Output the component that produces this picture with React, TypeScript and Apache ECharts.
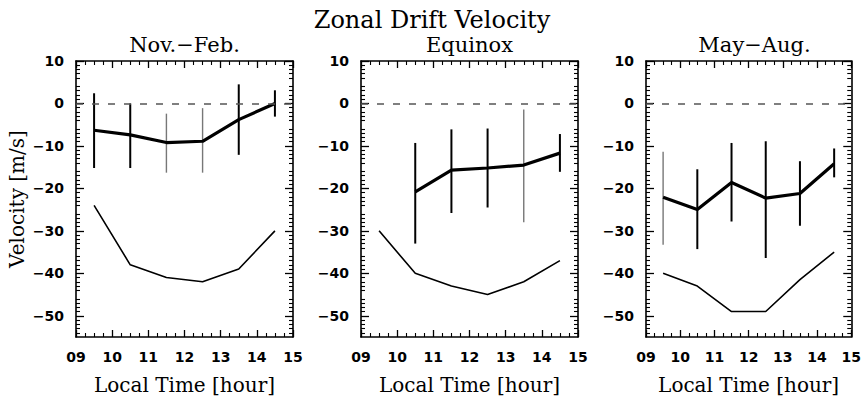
import React, { useEffect, useRef } from "react";
import * as echarts from "echarts";

const hours = [9.5, 10.5, 11.5, 12.5, 13.5, 14.5];
const panelTitles = ["Nov.−Feb.", "Equinox", "May−Aug."];
const mainTitle = "Zonal Drift Velocity";
const xTickLabels = ["09", "10", "11", "12", "13", "14", "15"];
const yTickValues = [-50, -40, -30, -20, -10, 0, 10];

// Nov.-Feb.
const novMean = [-6.3, -7.4, -9.2, -8.9, -3.8, 0.0];
const novHi = [2.4, 0.0, -2.4, -1.1, 4.5, 3.1];
const novLo = [-15.2, -15.2, -16.3, -16.3, -12.1, -3.1];
const novModel = [-24, -38, -41, -42, -39, -30];
// Equinox
const eqMean = [null, -20.8, -15.7, -15.2, -14.5, -11.7];
const eqHi = [null, -9.3, -6.1, -5.9, -1.4, -7.2];
const eqLo = [null, -33.0, -25.8, -24.5, -28.0, -16.1];
const eqModel = [-30, -40, -43, -45, -42, -37];
// May-Aug.
const mayMean = [-22.1, -25.0, -18.6, -22.3, -21.2, -14.2];
const mayHi = [-11.4, -15.5, -9.3, -8.9, -13.6, -10.6];
const mayLo = [-33.3, -34.3, -27.8, -36.4, -28.8, -17.4];
const mayModel = [-40, -43, -49, -49, -41.5, -35];

// bars drawn lighter in the reference (indices into hours)
const lightBars = [[2, 3], [4], [0]];

const panels = [
  { mean: novMean, hi: novHi, lo: novLo, model: novModel },
  { mean: eqMean, hi: eqHi, lo: eqLo, model: eqModel },
  { mean: mayMean, hi: mayHi, lo: mayLo, model: mayModel },
];

const gridLefts = [76, 361, 646];
const gridWidth = 217;
const gridTop = 61;
const gridHeight = 286;

const tickFont = { fontFamily: "DejaVu Sans", fontWeight: "bold" as const, fontSize: 14, color: "#000" };
const serif = "DejaVu Serif";

export default function App() {
  const ref = useRef<HTMLDivElement>(null);
  useEffect(() => {
    if (!ref.current) return;
    const chart = echarts.init(ref.current, null, { renderer: "svg" });

    const grids: any[] = [];
    const xAxes: any[] = [];
    const yAxes: any[] = [];
    const series: any[] = [];
    const graphics: any[] = [];

    const axisLine = { show: true, onZero: false, lineStyle: { color: "#000", width: 1.6 } };

    panels.forEach((p, i) => {
      grids.push({ left: gridLefts[i], width: gridWidth, top: gridTop, height: gridHeight });
      const xBase = {
        gridIndex: i,
        type: "value",
        min: 9,
        max: 15,
        interval: 1,
        axisLine,
        axisTick: { show: true, inside: true, length: 7, lineStyle: { color: "#000", width: 1.3 } },
        minorTick: { show: true, splitNumber: 4, length: 4, lineStyle: { color: "#000", width: 1.1 } },
        splitLine: { show: false },
      };
      xAxes.push({
        ...xBase,
        position: "bottom",
        name: "Local Time [hour]",
        nameLocation: "middle",
        nameGap: 38,
        nameTextStyle: { fontFamily: serif, fontSize: 20, color: "#000" },
        axisLabel: {
          ...tickFont,
          margin: 13,
          showMinLabel: true,
          showMaxLabel: true,
          formatter: (v: number) => xTickLabels[Math.round(v - 9)] ?? "",
        },
      });
      xAxes.push({ ...xBase, position: "top", axisLabel: { show: false } });

      const yBase = {
        gridIndex: i,
        type: "value",
        min: -55,
        max: 10,
        interval: 5,
        axisLine,
        axisTick: {
          show: true,
          inside: true,
          length: 8,
          customValues: yTickValues,
          lineStyle: { color: "#000", width: 1.3 },
        },
        minorTick: { show: true, splitNumber: 5, length: 4, lineStyle: { color: "#000", width: 1.1 } },
        splitLine: { show: false },
      };
      yAxes.push({
        ...yBase,
        position: "left",
        name: i === 0 ? "Velocity [m/s]" : "",
        nameLocation: "middle",
        nameGap: 49,
        nameTextStyle: { fontFamily: serif, fontSize: 20, color: "#000" },
        axisLabel: {
          ...tickFont,
          margin: 12,
          customValues: yTickValues,
          formatter: (v: number) => String(v).replace("-", "−"),
        },
      });
      yAxes.push({ ...yBase, position: "right", axisLabel: { show: false } });

      const xi = i * 2;
      const yi = i * 2;

      series.push({
        type: "line",
        xAxisIndex: xi,
        yAxisIndex: yi,
        data: hours.map((h, k) => [h, p.model[k]]),
        symbol: "none",
        lineStyle: { color: "#000", width: 1.6 },
        markLine: {
          silent: true,
          symbol: "none",
          label: { show: false },
          lineStyle: { type: [7, 9], color: "#555", width: 1.5 },
          data: [{ yAxis: 0 }],
        },
        z: 2,
      });

      series.push({
        type: "custom",
        xAxisIndex: xi,
        yAxisIndex: yi,
        data: hours
          .map((h, k) => [h, p.hi[k], p.lo[k], lightBars[i].includes(k) ? 1 : 0])
          .filter((d) => d[1] !== null),
        encode: { x: 0, y: [1, 2] },
        renderItem: (params: any, api: any) => {
          const x = api.value(0);
          const a = api.coord([x, api.value(1)]);
          const b = api.coord([x, api.value(2)]);
          const light = api.value(3) === 1;
          return {
            type: "line",
            shape: { x1: a[0], y1: a[1], x2: b[0], y2: b[1] },
            style: { stroke: light ? "#777" : "#000", lineWidth: light ? 1.4 : 2 },
          };
        },
        z: 3,
      });

      series.push({
        type: "line",
        xAxisIndex: xi,
        yAxisIndex: yi,
        data: hours.map((h, k) => [h, p.mean[k]]).filter((d) => d[1] !== null),
        symbol: "none",
        lineStyle: { color: "#000", width: 3.2 },
        z: 4,
      });

      graphics.push({
        type: "text",
        x: gridLefts[i] + gridWidth / 2,
        y: 45,
        style: {
          text: panelTitles[i],
          textAlign: "center",
          textVerticalAlign: "middle",
          font: `21px "${serif}"`,
          fill: "#000",
        },
      });
    });

    graphics.push({
      type: "text",
      x: 432,
      y: 20,
      style: {
        text: mainTitle,
        textAlign: "center",
        textVerticalAlign: "middle",
        font: `24px "${serif}"`,
        fill: "#000",
      },
    });

    chart.setOption({
      animation: false,
      backgroundColor: "#fff",
      grid: grids,
      xAxis: xAxes,
      yAxis: yAxes,
      series,
      graphic: graphics,
    });
    return () => chart.dispose();
  }, []);

  return (
    <div
      ref={ref}
      style={{ position: "fixed", left: 0, top: 0, width: 864, height: 400 }}
    />
  );
}
